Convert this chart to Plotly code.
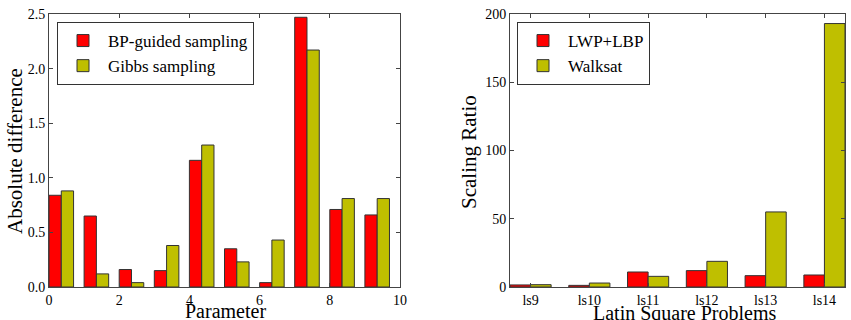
import plotly.graph_objects as go

# ---- Left chart data ----
params = list(range(10))
bp_guided = [0.84, 0.65, 0.16, 0.15, 1.16, 0.35, 0.04, 2.47, 0.71, 0.66]
gibbs = [0.88, 0.12, 0.04, 0.38, 1.30, 0.23, 0.43, 2.17, 0.81, 0.81]

# ---- Right chart data ----
problems = ["ls9", "ls10", "ls11", "ls12", "ls13", "ls14"]
lwp_lbp = [1.5, 1.2, 11.0, 12.0, 8.3, 8.8]
walksat = [1.7, 2.9, 7.8, 18.8, 55.0, 193.0]

RED = "#ff0000"
YEL = "#bfbf00"
EDGE = "#333333"
FONT = "Liberation Serif, 'DejaVu Serif', serif"
W = 0.35

fig = go.Figure()

fig.add_trace(go.Bar(x=params, y=bp_guided, width=W, offset=0, name="BP-guided sampling",
                     marker=dict(color=RED, line=dict(color=EDGE, width=1)),
                     xaxis="x", yaxis="y", legend="legend"))
fig.add_trace(go.Bar(x=params, y=gibbs, width=W, offset=W, name="Gibbs sampling",
                     marker=dict(color=YEL, line=dict(color=EDGE, width=1)),
                     xaxis="x", yaxis="y", legend="legend"))

xi = list(range(len(problems)))
fig.add_trace(go.Bar(x=xi, y=lwp_lbp, width=W, offset=-W, name="LWP+LBP",
                     marker=dict(color=RED, line=dict(color=EDGE, width=1)),
                     xaxis="x2", yaxis="y2", legend="legend2"))
fig.add_trace(go.Bar(x=xi, y=walksat, width=W, offset=0, name="Walksat",
                     marker=dict(color=YEL, line=dict(color=EDGE, width=1)),
                     xaxis="x2", yaxis="y2", legend="legend2"))

axis_common = dict(showline=True, linecolor="#444444", linewidth=1, mirror="ticks",
                   ticks="inside", ticklen=4, tickcolor="#444444", showgrid=False,
                   zeroline=False, automargin=False,
                   tickfont=dict(family=FONT, size=14, color="black"))

Wf, Hf = 851, 320
ydom = [1 - 287 / Hf, 1 - 14 / Hf]

fig.update_layout(
    width=Wf, height=Hf,
    margin=dict(l=0, r=0, t=0, b=0, pad=0, autoexpand=False),
    plot_bgcolor="white", paper_bgcolor="white",
    barmode="overlay",
    font=dict(family=FONT, color="black"),
    xaxis=dict(domain=[49 / Wf, 400 / Wf], range=[0, 10], tickvals=[0, 2, 4, 6, 8, 10],
               ticklabelstandoff=0, anchor="y", **axis_common),
    yaxis=dict(domain=ydom, range=[0, 2.5], tickvals=[0, 0.5, 1.0, 1.5, 2.0, 2.5],
               tickformat=".1f", anchor="x", **axis_common),
    xaxis2=dict(domain=[510 / Wf, 845 / Wf], range=[-0.35, 5.35], tickvals=xi, ticktext=problems,
                ticklabelstandoff=0, anchor="y2", **axis_common),
    yaxis2=dict(domain=ydom, range=[0, 200], tickvals=[0, 50, 100, 150, 200],
                anchor="x2", **axis_common),
    legend=dict(x=57 / Wf, y=1 - 22 / Hf, xanchor="left", yanchor="top",
                bordercolor="#333333", borderwidth=1, bgcolor="white",
                font=dict(family=FONT, size=17), itemwidth=40),
    legend2=dict(x=517 / Wf, y=1 - 22 / Hf, xanchor="left", yanchor="top",
                 bordercolor="#333333", borderwidth=1, bgcolor="white",
                 font=dict(family=FONT, size=17), itemwidth=40),
    showlegend=True,
)

title_font = dict(family=FONT, size=20, color="black")
fig.add_annotation(text="Parameter", xref="paper", yref="paper", x=225 / Wf, y=1 - 298 / Hf,
                   xanchor="center", yanchor="top", showarrow=False, font=title_font)
fig.add_annotation(text="Latin Square Problems", xref="paper", yref="paper", x=685 / Wf,
                   y=1 - 300 / Hf, xanchor="center", yanchor="top", showarrow=False,
                   font=title_font)
fig.add_annotation(text="Absolute difference", xref="paper", yref="paper", x=15 / Wf,
                   y=1 - 151 / Hf, xanchor="center", yanchor="middle", textangle=-90,
                   showarrow=False, font=dict(family=FONT, size=21, color="black"))
fig.add_annotation(text="Scaling Ratio", xref="paper", yref="paper", x=469 / Wf,
                   y=1 - 152 / Hf, xanchor="center", yanchor="middle", textangle=-90,
                   showarrow=False, font=dict(family=FONT, size=21, color="black"))

fig.write_html("out.html", config={"displayModeBar": False},
               post_script="document.body.style.margin='0';document.body.style.overflow='hidden';")
